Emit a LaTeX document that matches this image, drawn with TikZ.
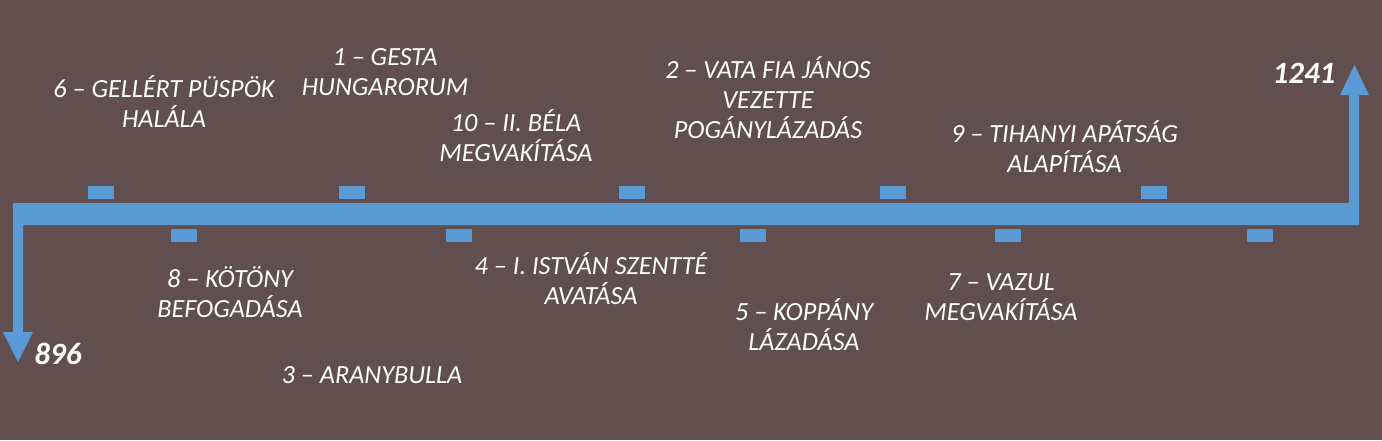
\documentclass[tikz,border=0pt]{standalone}
\usepackage{fontspec}
\setmainfont{Carlito}
\definecolor{bgc}{HTML}{614F4F}
\definecolor{tlc}{HTML}{5B9BD5}
\newcommand\lsx{\rule[-6pt]{0pt}{28pt}}
\begin{document}
\begin{tikzpicture}[x=1pt,y=-1pt,
  lbl/.style={text=white, align=center, inner sep=0pt, font=\fontsize{26.2}{30}\selectfont\itshape},
  yr/.style={text=white, inner sep=0pt, font=\fontsize{31}{36}\selectfont\bfseries\itshape},
  tickbox/.style={fill=tlc}]
\fill[bgc] (0,0) rectangle (1382,440);
\useasboundingbox (0,0) rectangle (1382,440);
% timeline arrow
\fill[tlc] (13,203) -- (1349,203) -- (1349,95) -- (1340,95) -- (1354.5,65) -- (1369,95) -- (1359,95)
  -- (1359,225) -- (23,225) -- (23,332) -- (33,332) -- (18,362) -- (3,332) -- (13,332) -- cycle;
% ticks
\foreach \x in {88,338.5,619,880,1141} \fill[tickbox] (\x,186) rectangle ++(26,13);
\foreach \x in {170.5,445.5,739.5,994.5,1247} \fill[tickbox] (\x,228.5) rectangle ++(26,13);
% years
\node[yr] (y896) at (58,354) {896};
\node[yr] (y1241) at (1304,73.5) {1241};
% labels above
\node[lbl] (e6) at (164,104) {\lsx 6 – GELLÉRT PÜSPÖK\\\lsx HALÁLA};
\node[lbl] (e1) at (385,72) {\lsx 1 – GESTA\\\lsx HUNGARORUM};
\node[lbl] (e10) at (516,138) {\lsx 10 – II. BÉLA\\\lsx MEGVAKÍTÁSA};
\node[lbl] (e2) at (768,100.5) {\lsx 2 – VATA FIA JÁNOS\\\lsx VEZETTE\\\lsx POGÁNYLÁZADÁS};
\node[lbl] (e9) at (1064.5,149.5) {\lsx 9 – TIHANYI APÁTSÁG\\\lsx ALAPÍTÁSA};
% labels below
\node[lbl] (e8) at (230,294) {\lsx 8 – KÖTÖNY\\\lsx BEFOGADÁSA};
\node[lbl] (e3) at (372,375) {\lsx 3 – ARANYBULLA};
\node[lbl] (e4) at (591,281) {\lsx 4 – I. ISTVÁN SZENTTÉ\\\lsx AVATÁSA};
\node[lbl] (e5) at (804,327) {\lsx 5 – KOPPÁNY\\\lsx LÁZADÁSA};
\node[lbl] (e7) at (1001,297.5) {\lsx 7 – VAZUL\\\lsx MEGVAKÍTÁSA};
\end{tikzpicture}
\end{document}
